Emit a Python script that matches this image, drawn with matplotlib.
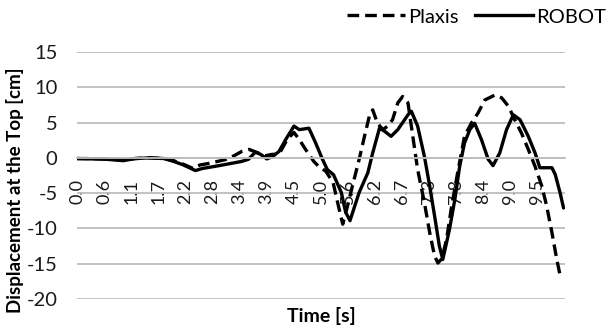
import matplotlib
matplotlib.use('Agg')
import matplotlib.pyplot as plt
from matplotlib.lines import Line2D

# values
plaxis_t = [0.0, 0.3, 0.6, 0.96, 1.2, 1.5, 1.8, 2.0, 2.2, 2.4, 2.55, 2.72, 3.07,
            3.25, 3.42, 3.56, 3.75, 3.9, 4.04, 4.18, 4.35, 4.49, 4.6, 4.73, 4.9,
            5.0, 5.15, 5.3, 5.4, 5.5, 5.6, 5.7, 5.84, 5.95, 6.05, 6.12, 6.22,
            6.33, 6.43, 6.53, 6.64, 6.74, 6.85, 6.95, 7.05, 7.19, 7.3, 7.4, 7.47,
            7.55, 7.65, 7.75, 7.89, 8.02, 8.16, 8.3, 8.44, 8.65, 8.79, 8.93, 9.06,
            9.2, 9.34, 9.48, 9.62, 9.72, 9.83, 9.93, 10.0]
plaxis_v = [-0.1, -0.1, -0.15, -0.3, -0.1, 0.0, -0.1, -0.4, -0.9, -1.5, -1.0, -0.8,
            -0.25, 0.3, 0.95, 1.2, 0.7, 0.3, 0.5, 0.5, 2.6, 3.6, 2.6, 1.2, -0.5,
            -1.2, -1.9, -3.5, -6.5, -9.4, -6.8, -4.0, -0.2, 3.05, 5.9, 6.8, 4.9,
            4.0, 4.5, 5.4, 7.8, 8.7, 7.8, 3.05, -1.65, -6.35, -10.6, -13.9, -14.9,
            -14.3, -11.5, -7.0, -1.65, 3.05, 4.9, 6.35, 8.2, 8.9, 8.5, 7.3, 5.4,
            3.5, 1.2, -1.2, -4.0, -6.8, -10.6, -14.4, -16.7]

robot_t = [0.0, 0.3, 0.6, 0.96, 1.2, 1.5, 1.8, 2.0, 2.2, 2.45, 2.6, 2.86, 3.1,
           3.41, 3.55, 3.69, 3.8, 3.93, 4.05, 4.18, 4.32, 4.49, 4.6, 4.8, 4.94,
           5.08, 5.18, 5.31, 5.47, 5.56, 5.65, 5.84, 6.02, 6.12, 6.26, 6.36, 6.5,
           6.64, 6.85, 6.92, 7.05, 7.19, 7.3, 7.4, 7.5, 7.57, 7.61, 7.71, 7.82,
           7.92, 8.02, 8.13, 8.23, 8.37, 8.51, 8.61, 8.75, 8.89, 9.03, 9.17, 9.34,
           9.48, 9.58, 9.69, 9.83, 9.9, 10.0, 10.07]
robot_v = [-0.1, -0.15, -0.2, -0.4, -0.1, 0.0, -0.1, -0.5, -1.0, -1.8, -1.5, -1.2,
           -0.9, -0.5, -0.2, 0.8, 0.5, -0.15, 0.2, 0.9, 2.6, 4.5, 4.0, 4.2, 2.1,
           -0.2, -1.65, -2.4, -4.9, -7.7, -8.9, -4.9, -2.1, 0.7, 4.2, 3.8, 3.05,
           4.0, 6.1, 6.6, 4.5, 0.2, -4.0, -8.2, -12.5, -14.4, -13.2, -10.1, -5.9,
           -1.2, 2.1, 4.0, 4.9, 2.6, -0.2, -1.1, 0.7, 4.0, 6.1, 5.4, 3.05, 0.7,
           -1.4, -1.4, -1.4, -2.4, -5.0, -7.1]

tick_step = 0.56
n_ticks = 18
y_ticks = [15, 10, 5, 0, -5, -10, -15, -20]

plt.rcParams['font.family'] = ['Lato', 'DejaVu Sans']
W, H = 609, 329
fig = plt.figure(figsize=(W / 100, H / 100), dpi=100)
ax = fig.add_axes([77 / W, 1 - 299 / H, (565 - 77) / W, (299 - 52) / H])

ax.plot(robot_t, robot_v, color='black', lw=2.4, solid_joinstyle='round',
        solid_capstyle='round')
ax.plot(plaxis_t, plaxis_v, color='black', lw=2.4, dashes=(3.5, 1.8))

ax.set_xlim(0, 10.1)
ax.set_ylim(-20, 15)
ax.set_yticks(y_ticks)
ax.set_yticklabels([str(v) for v in y_ticks])
ax.yaxis.grid(True, color='#bdbdbd', lw=1.3)
ax.set_axisbelow(True)

for s in ['top', 'right', 'left']:
    ax.spines[s].set_visible(False)
ax.spines['bottom'].set_position(('data', 0))
ax.spines['bottom'].set_color('#bdbdbd')
ax.spines['bottom'].set_linewidth(1.3)

xt = [k * tick_step for k in range(n_ticks)]
ax.set_xticks(xt)
ax.set_xticklabels([f'{v:.1f}' for v in xt], rotation=90)
ax.tick_params(axis='x', length=0, pad=15, labelsize=13, colors='#1a1a1a')
ax.tick_params(axis='y', length=0, pad=14, labelsize=14.5, colors='#1a1a1a')

fig.text(321 / W, 1 - 316 / H, 'Time [s]', ha='center', va='center',
         fontsize=14, fontweight='bold')
fig.text(15 / W, 1 - 190 / H, 'Displacement at the Top [cm]', ha='center',
         va='center', rotation=90, fontsize=13.5, fontweight='bold')

handles = [Line2D([], [], color='black', lw=2.4, dashes=(3.5, 1.8)),
           Line2D([], [], color='black', lw=2.4)]
fig.legend(handles, ['Plaxis', 'ROBOT'], loc='center right',
           bbox_to_anchor=(606 / W, 1 - 17 / H), ncol=2, frameon=False,
           fontsize=14.5, handlelength=2.9, handletextpad=0.15,
           columnspacing=0.8, borderpad=0, borderaxespad=0)

fig.savefig('out.png', dpi=100)
